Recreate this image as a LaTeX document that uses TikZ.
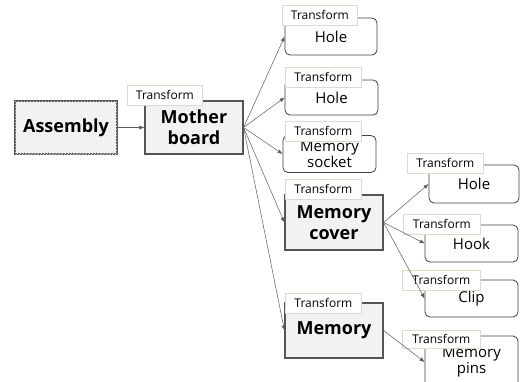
\documentclass[tikz,border=0pt]{standalone}
\usepackage{fontspec}
\setmainfont{Open Sans}
\usepackage{tikz}
\usetikzlibrary{arrows.meta, positioning, patterns}
\definecolor{partfill}{RGB}{242, 242, 242}
\definecolor{partline}{RGB}{85, 85, 85}
\definecolor{tagline}{RGB}{226, 218, 200}

\begin{document}
\begin{tikzpicture}[
  x=1pt, y=-1pt,
  partbox/.style={draw=partline, line width=1.1pt, fill=partfill, align=center, inner sep=2pt, font=\fontsize{18}{21}\selectfont\bfseries},
  leafbox/.style={draw=black!75, line width=0.8pt, rounded corners=5pt, fill=white, align=center, inner sep=1pt, font=\fontsize{15}{16}\selectfont},
  tagbox/.style={draw=tagline, line width=0.8pt, fill=white, anchor=north west, minimum height=20pt, inner sep=0pt, font=\fontsize{12}{13}\selectfont},
  link/.style={draw=black!65, line width=0.5pt, -{Latex[length=5pt, width=4pt]}}
]
  \useasboundingbox (0,0) rectangle (521,381);
  \clip (0,0) rectangle (521,381);

  % main parts
  \node[partbox, minimum width=102pt, minimum height=53pt, fill=gray!4,
        postaction={pattern=north east lines, pattern color=gray!22}] (asm) at (66,127.5) {Assembly};
  \node[partbox, minimum width=98pt, minimum height=53pt] (board) at (194,127.5) {Mother\\board};
  \node[partbox, minimum width=98pt, minimum height=55pt] (cover) at (334,222.5) {Memory\\cover};
  \node[partbox, minimum width=98pt, minimum height=55pt] (memory) at (334,330.5) {Memory};

  % leaf parts
  \node[leafbox, minimum width=92pt, minimum height=37pt] (hole1) at (331,36.5) {Hole};
  \node[leafbox, minimum width=93pt, minimum height=35pt] (hole2) at (331.5,97.5) {Hole};
  \node[leafbox, minimum width=93pt, minimum height=37pt] (socket) at (329.5,154) {Memory\\socket};
  \node[leafbox, minimum width=90pt, minimum height=38pt] (hole3) at (474,184) {Hole};
  \node[leafbox, minimum width=93pt, minimum height=37pt] (hook) at (471.5,243.5) {Hook};
  \node[leafbox, minimum width=93pt, minimum height=37pt] (clip) at (471.5,298.5) {Clip};
  \node[leafbox, minimum width=93pt, minimum height=52pt] (pins) at (471.5,362) {Memory\\pins};

  % transform tags
  \node[tagbox, minimum width=75pt] (tagboard) at (127,85) {Transform};
  \node[tagbox, minimum width=75pt] (taghole1) at (282,5) {Transform};
  \node[tagbox, minimum width=76pt] (taghole2) at (285,67) {Transform};
  \node[tagbox, minimum width=76pt] (tagsocket) at (285,121) {Transform};
  \node[tagbox, minimum width=76pt] (tagcover) at (285,179) {Transform};
  \node[tagbox, minimum width=76pt] (tagmemory) at (285,293) {Transform};
  \node[tagbox, minimum width=76pt] (taghole3) at (407,153) {Transform};
  \node[tagbox, minimum width=77pt] (taghook) at (403,214) {Transform};
  \node[tagbox, minimum width=78pt] (tagclip) at (402,270) {Transform};
  \node[tagbox, minimum width=78pt, minimum height=18pt] (tagpins) at (402,330) {Transform};

  % links
  \draw[link] (asm) -- (board);
  \draw[link] (board.east) -- (hole1.west);
  \draw[link] (board.east) -- (hole2.west);
  \draw[link] (board.east) -- (socket.west);
  \draw[link] (board.east) -- (cover.west);
  \draw[link] (board.east) -- (memory.west);
  \draw[link] (cover.east) -- (hole3.west);
  \draw[link] (cover.east) -- (hook.west);
  \draw[link] (cover.east) -- (clip.west);
  \draw[link] (memory.east) -- (pins.west);
\end{tikzpicture}
\end{document}
